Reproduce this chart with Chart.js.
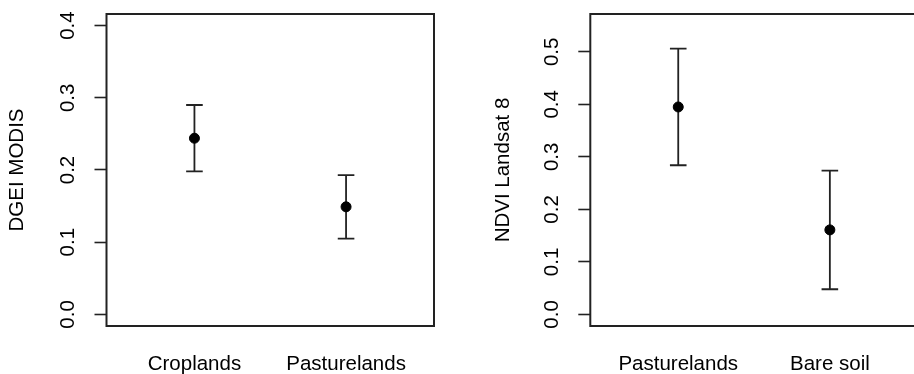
<!DOCTYPE html>
<html>
<head>
<meta charset="utf-8">
<script src="https://cdn.jsdelivr.net/npm/chart.js@4/dist/chart.umd.min.js"></script>
<style>
  html, body { margin: 0; padding: 0; background: #fff; overflow: hidden; }
  #wrap { position: relative; width: 914px; height: 374px; overflow: hidden; }
  #leftPanel { position: absolute; left: 0; top: 0; }
  #rightPanel { position: absolute; left: 457px; top: 0; }
</style>
</head>
<body>
<div id="wrap">
  <canvas id="leftPanel" width="457" height="374"></canvas>
  <canvas id="rightPanel" width="470" height="374"></canvas>
</div>
<script>
// DATA - left panel (DGEI MODIS)
const leftCategories = ['Croplands', 'Pasturelands'];
const leftMeans = [0.244, 0.149];
const leftLower = [0.198, 0.105];
const leftUpper = [0.290, 0.193];
const leftTicks = [0.0, 0.1, 0.2, 0.3, 0.4];

// DATA - right panel (NDVI Landsat 8)
const rightCategories = ['Pasturelands', 'Bare soil'];
const rightMeans = [0.395, 0.161];
const rightLower = [0.284, 0.048];
const rightUpper = [0.506, 0.274];
const rightTicks = [0.0, 0.1, 0.2, 0.3, 0.4, 0.5];

const FONT = { family: '"Liberation Sans", Arial, Helvetica, sans-serif', size: 20.5 };
const INK = '#222';

// box round the plot + error bars with caps
const errorBars = {
    id: 'errorBars',
    beforeDatasetsDraw(chart, args, opts) {
        const { ctx, chartArea: a, scales: { x, y } } = chart;
        ctx.save();
        ctx.strokeStyle = INK;
        ctx.lineWidth = 2;
        ctx.strokeRect(a.left, a.top, a.right - a.left, a.bottom - a.top);
        ctx.lineWidth = 1.8;
        opts.lower.forEach((lo, i) => {
            const px = x.getPixelForValue(i + 1);
            const yLo = y.getPixelForValue(lo);
            const yHi = y.getPixelForValue(opts.upper[i]);
            ctx.beginPath();
            ctx.moveTo(px, yLo);
            ctx.lineTo(px, yHi);
            ctx.moveTo(px - 8.3, yLo);
            ctx.lineTo(px + 8.3, yLo);
            ctx.moveTo(px - 8.3, yHi);
            ctx.lineTo(px + 8.3, yHi);
            ctx.stroke();
        });
        ctx.restore();
    }
};

const makePanel = (canvasId, cfg) => {
    return new Chart(document.getElementById(canvasId), {
        type: 'scatter',
        data: {
            datasets: [{
                data: cfg.means.map((m, i) => ({ x: i + 1, y: m })),
                backgroundColor: '#000',
                borderColor: '#000',
                pointRadius: 5,
                pointHoverRadius: 5
            }]
        },
        options: {
            responsive: false,
            animation: false,
            devicePixelRatio: 1,
            layout: { padding: { top: 14, right: cfg.padRight, left: 0, bottom: 0 } },
            plugins: {
                legend: { display: false },
                tooltip: { enabled: false },
                errorBars: { lower: cfg.lower, upper: cfg.upper }
            },
            scales: {
                x: {
                    type: 'linear',
                    min: 0.42,
                    max: 2.58,
                    border: { display: false },
                    grid: { display: false, drawTicks: false },
                    afterBuildTicks: (scale) => {
                        scale.ticks = cfg.categories.map((c, i) => ({ value: i + 1 }));
                    },
                    afterFit: (scale) => {
                        scale.height = 48;
                        scale.paddingLeft = 0;
                        scale.paddingRight = 0;
                    },
                    ticks: {
                        color: '#000',
                        font: FONT,
                        padding: 26,
                        maxRotation: 0,
                        autoSkip: false,
                        callback: (v) => cfg.categories[v - 1]
                    }
                },
                y: {
                    min: cfg.yMin,
                    max: cfg.yMax,
                    border: { display: false },
                    grid: {
                        drawOnChartArea: false,
                        drawTicks: true,
                        tickLength: 12,
                        tickColor: INK,
                        tickWidth: 1.6
                    },
                    afterBuildTicks: (scale) => {
                        scale.ticks = cfg.ticks.map(v => ({ value: v }));
                    },
                    afterFit: (scale) => {
                        scale.width = cfg.axisWidth;
                        scale.paddingTop = 0;
                        scale.paddingBottom = 0;
                    },
                    ticks: {
                        color: '#000',
                        font: FONT,
                        padding: 12,
                        minRotation: 90,
                        maxRotation: 90,
                        crossAlign: 'center',
                        autoSkip: false,
                        callback: (v) => v.toFixed(1)
                    },
                    title: {
                        display: true,
                        text: cfg.title,
                        color: '#000',
                        font: FONT,
                        padding: { top: cfg.titlePad, bottom: 0 }
                    }
                }
            }
        },
        plugins: [errorBars]
    });
};

makePanel('leftPanel', {
    categories: leftCategories, means: leftMeans, lower: leftLower, upper: leftUpper,
    ticks: leftTicks, yMin: -0.016, yMax: 0.416,
    title: 'DGEI MODIS', titlePad: 5, axisWidth: 106.5, padRight: 23
});

makePanel('rightPanel', {
    categories: rightCategories, means: rightMeans, lower: rightLower, upper: rightUpper,
    ticks: rightTicks, yMin: -0.022, yMax: 0.572,
    title: 'NDVI Landsat 8', titlePad: 34, axisWidth: 133.3, padRight: 9.2
});
</script>
</body>
</html>
